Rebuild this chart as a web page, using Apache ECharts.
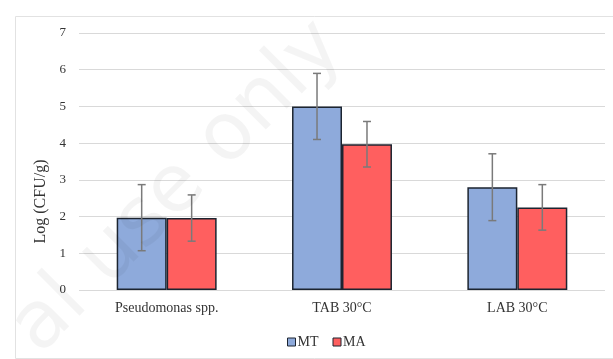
<!DOCTYPE html>
<html>
<head>
<meta charset="utf-8">
<script src="https://cdn.jsdelivr.net/npm/echarts@6/dist/echarts.min.js"></script>
<style>html,body{margin:0;padding:0;background:#fff;}#c{width:613px;height:359px;}</style>
</head>
<body>
<div id="c"></div>
<script>
var categories = ['Pseudomonas spp.', 'TAB 30°C', 'LAB 30°C'];
var seriesNames = ['MT', 'MA'];
var mtValues = [1.97, 5.0, 2.8];
var mtErrors = [0.9, 0.9, 0.91];
var maValues = [1.96, 3.97, 2.25];
var maErrors = [0.63, 0.62, 0.62];
var yTicks = [0, 1, 2, 3, 4, 5, 6, 7];

var chart = echarts.init(document.getElementById('c'), null, {renderer: 'canvas'});
var font = 'Liberation Serif, Times New Roman, serif';
var catGap = 0.43;

function errData(vals, errs) {
  return vals.map(function (v, i) { return [i, v - errs[i], v + errs[i]]; });
}
function errSeries(vals, errs, idx) {
  return {
    type: 'custom',
    name: seriesNames[idx] + ' err',
    z: 5,
    data: errData(vals, errs),
    encode: {x: 0, y: [1, 2]},
    renderItem: function (params, api) {
      var band = api.size([1, 0])[0];
      var barW = band * (1 - catGap) / 2;
      var off = (idx - 0.5) * barW;
      var lo = api.coord([api.value(0), api.value(1)]);
      var hi = api.coord([api.value(0), api.value(2)]);
      var x = lo[0] + off;
      var cap = 4;
      var st = {stroke: '#7a7a7a', lineWidth: 1.5};
      return {type: 'group', children: [
        {type: 'line', shape: {x1: x, y1: lo[1], x2: x, y2: hi[1]}, style: st},
        {type: 'line', shape: {x1: x - cap, y1: lo[1], x2: x + cap, y2: lo[1]}, style: st},
        {type: 'line', shape: {x1: x - cap, y1: hi[1], x2: x + cap, y2: hi[1]}, style: st}
      ]};
    },
    tooltip: {show: false}
  };
}

chart.setOption({
  animation: false,
  backgroundColor: '#ffffff',
  graphic: [
    {type: 'rect', left: 13, top: 14, shape: {width: 605, height: 342}, style: {fill: 'none', stroke: '#e2e2e2', lineWidth: 1}, z: 0},
    {type: 'text', x: 178, y: 188, rotation: Math.PI / 4, z: 100,
     style: {text: 'al use only', font: '80px DejaVu Sans, sans-serif', fill: 'rgba(0,0,0,0.045)', textAlign: 'center', textVerticalAlign: 'middle'}}
  ],
  grid: {left: 79, right: 8, top: 33, bottom: 69},
  legend: {
    data: seriesNames,
    top: 330,
    left: 282,
    itemWidth: 8,
    itemHeight: 8,
    itemGap: 14,
    icon: 'rect',
    itemStyle: {borderColor: '#1c2430', borderWidth: 1},
    textStyle: {fontFamily: font, fontSize: 14, color: '#333333', padding: [0, 0, 0, -3]}
  },
  xAxis: {
    type: 'category',
    data: categories,
    axisLine: {show: false},
    axisTick: {show: false},
    axisLabel: {fontFamily: font, fontSize: 14, color: '#333333', margin: 11}
  },
  yAxis: {
    type: 'value',
    min: 0, max: 7, interval: 1,
    name: 'Log (CFU/g)',
    nameLocation: 'middle',
    nameGap: 30,
    nameTextStyle: {fontFamily: font, fontSize: 16, color: '#333333', padding: [0, 0, 0, -80]},
    axisLine: {show: false},
    axisTick: {show: false},
    axisLabel: {fontFamily: font, fontSize: 13, color: '#333333', margin: 13,
      formatter: function (v) { return yTicks.indexOf(v) >= 0 ? String(v) : ''; }},
    splitLine: {lineStyle: {color: '#d9d9d9', width: 1.2}}
  },
  series: [
    {type: 'bar', name: 'MT', data: mtValues, barGap: '0%', barCategoryGap: (catGap * 100) + '%',
     itemStyle: {color: '#8eaadb', borderColor: '#1c2430', borderWidth: 1.5}},
    {type: 'bar', name: 'MA', data: maValues, barGap: '0%', barCategoryGap: (catGap * 100) + '%',
     itemStyle: {color: '#ff5f5f', borderColor: '#1c2430', borderWidth: 1.5}},
    errSeries(mtValues, mtErrors, 0),
    errSeries(maValues, maErrors, 1)
  ]
});
</script>
</body>
</html>
